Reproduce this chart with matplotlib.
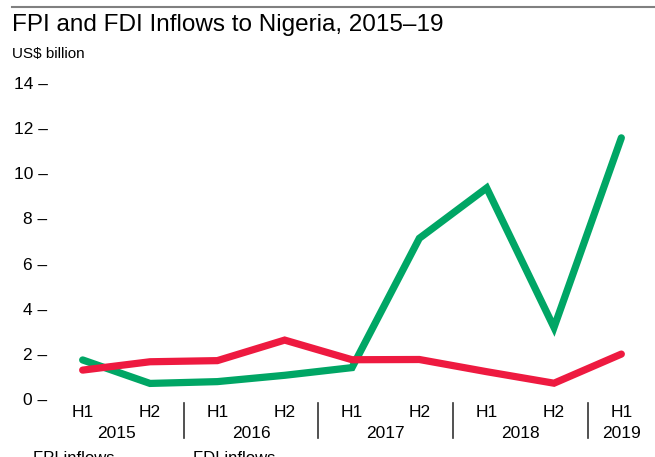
import matplotlib
matplotlib.use("Agg")
import matplotlib.pyplot as plt
from matplotlib.lines import Line2D

plt.rcParams['font.family'] = ['Liberation Sans', 'DejaVu Sans']

# Datos (US$ miles de millones), semestres 2015 H1 - 2019 H1
halves = ['H1', 'H2', 'H1', 'H2', 'H1', 'H2', 'H1', 'H2', 'H1']
years = ['2015', '2016', '2017', '2018', '2019']
year_pos = [0.5, 2.5, 4.5, 6.5, 8]
fpi = [1.73, 0.69, 0.77, 1.05, 1.39, 7.12, 9.35, 3.17, 11.57]
fdi = [1.28, 1.65, 1.70, 2.61, 1.74, 1.75, 1.21, 0.70, 1.99]
yticks = [0, 2, 4, 6, 8, 10, 12, 14]

green = '#00a665'
red = '#ee1a40'

W, H = 655, 457
fig = plt.figure(figsize=(W / 100, H / 100), dpi=100)

# ejes ubicados en pixeles
left, right, bottom, top = 49, 655, 399, 83
ax = fig.add_axes([left / W, (H - bottom) / H, (right - left) / W, (bottom - top) / H])

x = list(range(len(halves)))
ax.plot(x, fpi, color=green, lw=5.2, solid_capstyle='round', solid_joinstyle='miter', clip_on=False)
ax.plot(x, fdi, color=red, lw=5.2, solid_capstyle='round', solid_joinstyle='miter', clip_on=False)

ax.set_xlim(-0.5, 8.5)
ax.set_ylim(0, 14)
ax.set_yticks(yticks)
ax.set_yticklabels([f'{v} \u2013' for v in yticks], fontsize=12.5)
ax.set_xticks(x)
ax.set_xticklabels(halves, fontsize=12.5)
ax.tick_params(axis='y', length=0, pad=1)
ax.tick_params(axis='x', length=0, pad=4)
for s in ax.spines.values():
    s.set_visible(False)

# etiquetas de años y separadores
per = (bottom - top) / 14
for p, yr in zip(year_pos, years):
    ax.text(p, -(433 - bottom) / per, yr, ha='center', va='center', fontsize=12.5, clip_on=False)
for sep in [1.5, 3.5, 5.5, 7.5]:
    ax.add_line(Line2D([sep, sep], [-(403 - bottom) / per, -(438 - bottom) / per],
                       color='#333333', lw=1.2, clip_on=False))

# título y línea superior
fig.add_artist(Line2D([12 / W, 1], [1 - 7 / H, 1 - 7 / H], color='#808080', lw=1.5))
fig.text(12 / W, 1 - 25 / H, 'FPI and FDI Inflows to Nigeria, 2015\u201319', fontsize=17.5, va='center')
fig.text(12 / W, 1 - 54 / H, 'US$ billion', fontsize=11, va='center')

# leyenda (cortada en la imagen original)
fig.text(33 / W, 1 - 451 / H, 'FPI inflows', fontsize=12, va='top')
fig.text(193 / W, 1 - 451 / H, 'FDI inflows', fontsize=12, va='top')

fig.savefig('out.png', dpi=100)
